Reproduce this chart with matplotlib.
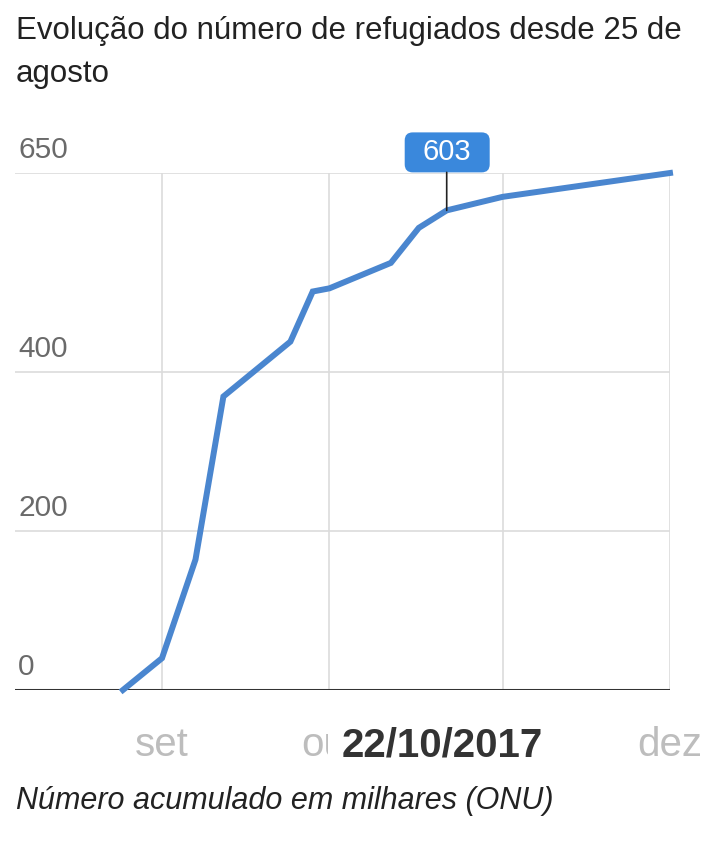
import matplotlib
matplotlib.use("Agg")
import matplotlib.pyplot as plt
import matplotlib.dates as mdates
import matplotlib.transforms as mtransforms
from matplotlib.patches import FancyBboxPatch
import datetime as dt

plt.rcParams['font.family'] = ['Liberation Sans', 'DejaVu Sans']

# Data (thousands of refugees, cumulative)
dates = ["2017-08-25", "2017-09-01", "2017-09-07", "2017-09-12", "2017-09-24",
         "2017-09-28", "2017-10-01", "2017-10-12", "2017-10-17", "2017-10-22",
         "2017-11-01", "2017-12-01"]
values = [0, 40, 164, 369, 438, 501, 505, 537, 581, 603, 620, 650]

tick_dates = ["2017-09-01", "2017-10-01", "2017-11-01", "2017-12-01"]
tick_labels = ["set", "out", "nov", "dez"]
y_ticks = [0, 200, 400, 650]

hl_date = "2017-10-22"
hl_value = 603
hl_label = "22/10/2017"

x = [mdates.date2num(dt.datetime.fromisoformat(d)) for d in dates]
xt = [mdates.date2num(dt.datetime.fromisoformat(d)) for d in tick_dates]
xh = mdates.date2num(dt.datetime.fromisoformat(hl_date))

W, H = 706, 846
fig = plt.figure(figsize=(W / 100, H / 100), dpi=100)
ax = fig.add_axes([15 / W, (H - 690) / H, (670 - 15) / W, (690 - 173) / H])

blue = "#4a86cf"
ax.plot(x, values, color=blue, lw=4.3, solid_joinstyle="miter", zorder=3, clip_on=False)

# x limits: Sep 1 sits at px 162, Dec 1 at px 670
px_per_day = (670 - 162) / (xt[3] - xt[0])
ax.set_xlim(xt[0] - (162 - 15) / px_per_day, xt[3])
ax.set_ylim(0, 650)

for s in ax.spines.values():
    s.set_visible(False)
ax.set_xticks(xt)
ax.set_yticks(y_ticks)
ax.tick_params(length=0, labelleft=False, labelbottom=False)
ax.grid(True, color="#dcdcdc", lw=1.2)
ax.axhline(0, color="#333333", lw=2.2, zorder=2)

# y labels above grid lines
for v in y_ticks:
    ax.annotate(str(v), (0, v), xycoords=("axes fraction", "data"),
                xytext=(3, 15), textcoords="offset pixels",
                ha="left", va="baseline", fontsize=21.5, color="#6a6a6a")

# x labels
for xv, lab in zip(xt, tick_labels):
    ax.annotate(lab, (xv, 0), xycoords=("data", "data"),
                xytext=(0, -55), textcoords="offset pixels",
                ha="center", va="center", fontsize=29, color="#bdbdbd")

# highlighted date covering the neighbouring tick labels
ax.annotate(hl_label, (xh, 0), xycoords=("data", "data"),
            xytext=(-4, -55), textcoords="offset pixels",
            ha="center", va="center", fontsize=29, fontweight="bold", color="#333333",
            bbox=dict(boxstyle="square,pad=0.35", fc="white", ec="none"), zorder=5)

# tooltip: box 85x40 px, centred 56 px above the point
px, py = ax.transData.transform((xh, hl_value))
box = FancyBboxPatch((px - 42, py + 38), 85, 40,
                     boxstyle="round,pad=0,rounding_size=8",
                     fc="#3a88dc", ec="none", transform=mtransforms.IdentityTransform(),
                     zorder=6, clip_on=False)
ax.add_patch(box)
ax.annotate("", (xh, hl_value), xytext=(0, 38), textcoords="offset pixels",
            arrowprops=dict(arrowstyle="-", color="#222222", lw=1.2, shrinkA=0, shrinkB=0),
            annotation_clip=False, zorder=6)
ax.annotate(str(hl_value), (xh, hl_value), xytext=(0, 58), textcoords="offset pixels",
            ha="center", va="center", fontsize=21, color="white",
            annotation_clip=False, zorder=7)

fig.text(16 / W, 1 - 39 / H, "Evolução do número de refugiados desde 25 de",
         ha="left", va="baseline", fontsize=22.5, color="#222222")
fig.text(16 / W, 1 - 82 / H, "agosto",
         ha="left", va="baseline", fontsize=22.5, color="#222222")
fig.text(16 / W, 1 - 801 / H, "Número acumulado em milhares (ONU)",
         ha="left", va="center", fontsize=22, style="italic", color="#222222")

fig.savefig("out.png", dpi=100, facecolor="white")
